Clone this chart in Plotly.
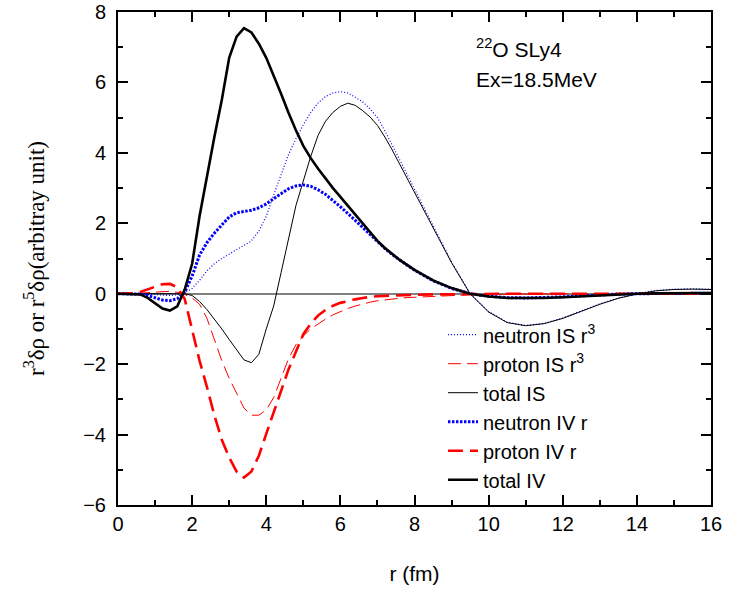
import plotly.graph_objects as go

# r values (fm)
r = [0.0, 0.2, 0.4, 0.6, 0.8, 1.0, 1.2, 1.4, 1.6, 1.8, 2.0, 2.2, 2.4, 2.6, 2.8, 3.0,
     3.2, 3.4, 3.6, 3.8, 4.0, 4.2, 4.4, 4.6, 4.8, 5.0, 5.2, 5.4, 5.6, 5.8, 6.0,
     6.2, 6.4, 6.6, 6.8, 7.0, 7.2, 7.4, 7.6, 7.8, 8.0,
     8.5, 9.0, 9.5, 10.0, 10.5, 11.0, 11.5, 12.0, 12.5, 13.0, 13.5, 14.0, 14.5, 15.0, 15.5, 16.0]

neutron_IS = [0, 0, 0, 0, -0.01, -0.02, -0.04, -0.05, -0.03, 0.03, 0.15, 0.38, 0.65, 0.85, 1.0, 1.12,
              1.25, 1.37, 1.5, 1.78, 2.2, 2.8, 3.4, 3.95, 4.4, 4.8, 5.15, 5.42, 5.6, 5.7, 5.74,
              5.7, 5.58, 5.45, 5.25, 5.0, 4.63, 4.22, 3.8, 3.38, 2.96,
              1.92, 0.9, 0.0, -0.51, -0.81, -0.9, -0.84, -0.69, -0.49, -0.29, -0.12, 0.0, 0.09, 0.13, 0.14, 0.13]

proton_IS = [0, 0, 0, 0.01, 0.03, 0.05, 0.07, 0.07, 0.04, -0.02, -0.12, -0.3, -0.7, -1.3, -1.9, -2.4,
             -2.85, -3.25, -3.45, -3.45, -3.3, -2.95, -2.4, -1.85, -1.45, -1.2, -1.0, -0.85, -0.72, -0.6, -0.5,
             -0.42, -0.35, -0.29, -0.24, -0.2, -0.17, -0.15, -0.13, -0.11, -0.1,
             -0.07, -0.05, -0.03, -0.02, -0.01, 0, 0, 0, 0, 0, 0, 0, 0, 0, 0, 0]

total_IS = [0, 0, 0, 0, 0, 0, 0, 0, 0, 0, -0.05, -0.22, -0.45, -0.72, -1.0, -1.3,
            -1.58, -1.88, -1.96, -1.72, -1.0, -0.35, 0.6, 1.6, 2.5, 3.2, 3.9, 4.5, 4.9, 5.15, 5.32,
            5.41, 5.35, 5.2, 5.02, 4.78, 4.45, 4.08, 3.68, 3.28, 2.88,
            1.88, 0.88, 0.0, -0.52, -0.82, -0.91, -0.85, -0.7, -0.5, -0.3, -0.13, -0.01, 0.08, 0.12, 0.13, 0.12]

neutron_IV = [0, 0, 0, -0.01, -0.05, -0.11, -0.18, -0.2, -0.14, 0.05, 0.5, 1.1, 1.45, 1.72, 1.95, 2.18,
              2.3, 2.34, 2.37, 2.44, 2.55, 2.7, 2.85, 2.98, 3.06, 3.09, 3.05, 2.95, 2.82, 2.65, 2.47,
              2.28, 2.08, 1.88, 1.7, 1.48, 1.29, 1.11, 0.95, 0.81, 0.67,
              0.37, 0.15, 0.0, -0.07, -0.11, -0.12, -0.11, -0.09, -0.06, -0.03, -0.01, 0.0, 0.01, 0.01, 0.01, 0.01]

proton_IV = [0, 0, 0.01, 0.05, 0.12, 0.2, 0.27, 0.28, 0.18, -0.15, -1.05, -1.9, -2.65, -3.45, -4.15, -4.65,
             -5.05, -5.22, -5.05, -4.6, -3.98, -3.35, -2.75, -2.15, -1.65, -1.15, -0.85, -0.62, -0.46, -0.34, -0.26,
             -0.2, -0.16, -0.12, -0.09, -0.07, -0.06, -0.05, -0.04, -0.03, -0.03,
             -0.02, -0.01, 0, 0, 0, 0, 0, 0, 0, 0, 0, 0, 0, 0, 0, 0]

total_IV = [0, 0, 0, -0.02, -0.12, -0.28, -0.42, -0.48, -0.36, 0.12, 0.85, 2.2, 3.35, 4.45, 5.5, 6.7,
            7.3, 7.54, 7.42, 7.1, 6.7, 6.2, 5.68, 5.14, 4.64, 4.2, 3.85, 3.55, 3.27, 3.0, 2.75,
            2.5, 2.25, 2.0, 1.75, 1.5, 1.3, 1.12, 0.96, 0.82, 0.68,
            0.38, 0.16, 0.0, -0.08, -0.12, -0.13, -0.12, -0.1, -0.07, -0.04, -0.02, 0.0, 0.01, 0.02, 0.02, 0.02]

series = [
    ("neutron IS r<sup>3</sup>", neutron_IS, dict(color="#0000ff", width=1.2, dash="1px,2px")),
    ("proton IS r<sup>3</sup>", proton_IS, dict(color="#ff0000", width=1.0, dash="13px,6px")),
    ("total IS", total_IS, dict(color="#000000", width=1.0)),
    ("neutron IV r", neutron_IV, dict(color="#0000ff", width=3.0, dash="2.5px,1.5px")),
    ("proton IV r", proton_IV, dict(color="#ff0000", width=2.6, dash="15px,7px")),
    ("total IV", total_IV, dict(color="#000000", width=2.6)),
]

fig = go.Figure()
for name, ys, line in series:
    fig.add_trace(go.Scatter(x=r, y=ys, mode="lines", name=name, line=line))

font_sans = "Liberation Sans, Arial, sans-serif"
axis_common = dict(
    showline=True, linecolor="black", linewidth=2, mirror="allticks",
    ticks="inside", ticklen=10, tickwidth=1.5, tickcolor="black",
    showgrid=False, automargin=False,
    tickfont=dict(family=font_sans, size=20, color="black"),
)

fig.update_xaxes(range=[0, 16], tick0=0, dtick=2, zeroline=False,
                 minor=dict(ticks="inside", ticklen=5, tickwidth=1.5, tickcolor="black", dtick=1, showgrid=False),
                 title=dict(text="r (fm)", font=dict(family=font_sans, size=21, color="black"), standoff=32),
                 **axis_common)
fig.update_yaxes(range=[-6, 8], tick0=0, dtick=2, zeroline=True, zerolinecolor="#808080", zerolinewidth=1.5,
                 ticklabelstandoff=6,
                 minor=dict(ticks="inside", ticklen=5, tickwidth=1.5, tickcolor="black", dtick=1, showgrid=False),
                 title=dict(text="r<sup>3</sup>δρ or r<sup>5</sup>δρ(arbitray unit)",
                            font=dict(family="Liberation Serif, Times New Roman, serif", size=23, color="black"),
                            standoff=32),
                 **axis_common)

fig.add_annotation(x=9.6, y=6.97, xref="x", yref="y", xanchor="left", yanchor="middle",
                   text="<sup>22</sup>O SLy4", showarrow=False,
                   font=dict(family=font_sans, size=21, color="black"))
fig.add_annotation(x=9.6, y=6.07, xref="x", yref="y", xanchor="left", yanchor="middle",
                   text="Ex=18.5MeV", showarrow=False,
                   font=dict(family=font_sans, size=21, color="black"))

fig.update_layout(
    width=730, height=591, autosize=False,
    margin=dict(l=118, r=19, t=12, b=86, autoexpand=False),
    plot_bgcolor="white", paper_bgcolor="white",
    legend=dict(x=0.548, y=0.385, xanchor="left", yanchor="top",
                bgcolor="rgba(0,0,0,0)", borderwidth=0,
                font=dict(family=font_sans, size=20, color="black"),
                tracegroupgap=0, itemwidth=30),
)

fig.write_html("out.html", config={"displayModeBar": False},
               post_script="document.body.style.margin='0px';")
